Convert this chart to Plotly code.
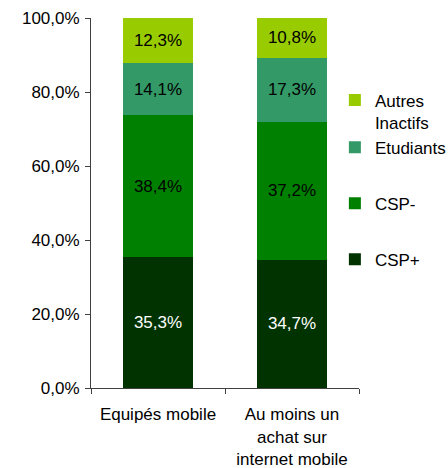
import plotly.graph_objects as go

categories = ["Equipés mobile", "Au moins un<br>achat sur<br>internet mobile"]
series_names = ["CSP+", "CSP-", "Etudiants", "Autres<br>Inactifs"]
csp_plus = [35.3, 34.7]
csp_moins = [38.4, 37.2]
etudiants = [14.1, 17.3]
autres = [12.3, 10.8]
colors = ["#003300", "#008000", "#339966", "#99CC00"]
text_colors = ["white", "black", "black", "black"]
legend_ranks = [4, 3, 2, 1]
legend_groups = ["g_csp_plus", "g_csp_moins", "g_top", "g_top"]
tick_vals = [0, 20, 40, 60, 80, 100]
tick_text = ["0,0%", "20,0%", "40,0%", "60,0%", "80,0%", "100,0%"]

FONT = "Liberation Sans, Arial, sans-serif"
FS = 17
AXIS_COLOR = "#404040"

fig = go.Figure()
for i, (name, vals) in enumerate(zip(series_names, [csp_plus, csp_moins, etudiants, autres])):
    fig.add_trace(go.Bar(
        x=categories, y=vals, name=name,
        marker=dict(color=colors[i], line=dict(width=0)),
        text=[f"{v:.1f}%".replace(".", ",") for v in vals],
        textposition="inside", insidetextanchor="middle",
        textfont=dict(color=text_colors[i], size=FS, family=FONT),
        legendgroup=legend_groups[i],
        legendrank=legend_ranks[i],
        hoverinfo="skip",
    ))

fig.update_layout(
    barmode="stack",
    bargap=0.48,
    width=448, height=468,
    margin=dict(l=91, r=89, t=18, b=80, autoexpand=False),
    plot_bgcolor="white", paper_bgcolor="white",
    font=dict(family=FONT, size=FS, color="black"),
    uniformtext=dict(minsize=FS, mode="show"),
    showlegend=True,
    legend=dict(
        x=0.91, y=0.826, xanchor="left", yanchor="top",
        traceorder="grouped", tracegroupgap=31,
        valign="top",
        font=dict(size=FS, family=FONT),
        itemwidth=30,
        bgcolor="rgba(0,0,0,0)",
    ),
    xaxis=dict(
        showline=True, linecolor=AXIS_COLOR, linewidth=1,
        ticks="outside", ticklen=5, tickcolor=AXIS_COLOR,
        tickson="boundaries",
        tickfont=dict(size=FS),
        ticklabelstandoff=11,
    ),
    yaxis=dict(
        range=[0, 100],
        tickvals=tick_vals, ticktext=tick_text,
        showline=True, linecolor=AXIS_COLOR, linewidth=1,
        ticks="outside", ticklen=5, tickcolor=AXIS_COLOR,
        showgrid=False, zeroline=False,
        tickfont=dict(size=FS),
        ticklabelstandoff=2,
    ),
)

fig.write_html(
    "out.html",
    config={"displayModeBar": False, "staticPlot": True},
    post_script="document.body.style.margin='0';",
)
